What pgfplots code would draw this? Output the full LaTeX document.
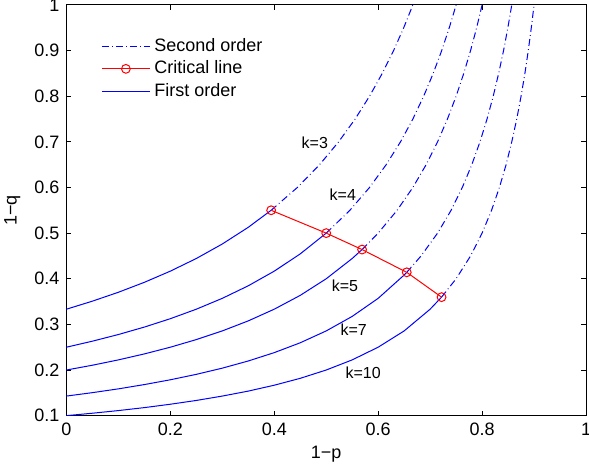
\documentclass[border=0pt]{standalone}
\usepackage{fontspec}
\setmainfont{Liberation Sans}
\usepackage{pgfplots}
\pgfplotsset{compat=1.18}

\definecolor{mblue}{rgb}{0,0,1}
\definecolor{mred}{rgb}{1,0,0}

\pgfplotsset{
  first/.style={mblue, line width=0.5pt, no markers},
  second/.style={mblue, line width=0.5pt, no markers,
    dash pattern=on 3.5pt off 1.6pt on 0.4pt off 1.6pt},
}

\begin{document}
\begin{tikzpicture}
\begin{axis}[
    scale only axis,
    width=260pt, height=205.5pt,
    xmin=0, xmax=1, ymin=0.1, ymax=1,
    xtick={0,0.2,0.4,0.6,0.8,1},
    ytick={0.1,0.2,0.3,0.4,0.5,0.6,0.7,0.8,0.9,1},
    tick align=inside,
    major tick length=2.5pt,
    axis line style={line width=0.5pt},
    every tick/.style={black, line width=0.5pt},
    font=\fontsize{9}{11}\selectfont,
    /pgf/number format/assume math mode=true,
    xlabel={1−p}, ylabel={1−q},
    xlabel style={at={(axis description cs:0.5,-0.095)}, anchor=center},
    ylabel style={at={(axis description cs:-0.104,0.5)}, anchor=center},
    legend cell align=left,
    legend style={draw=none, fill=none, at={(axis description cs:0.055,0.94)},
      anchor=north west, font=\fontsize{9}{11}\selectfont, row sep=-0.6pt},
    legend image code/.code={
      \draw[mark repeat=2, mark phase=2, #1]
        plot coordinates {(0pt,0pt) (12pt,0pt) (24pt,0pt)};
    },
]
\addlegendimage{second}
\addlegendentry{Second order}
\addlegendimage{mred, line width=0.5pt, mark=o, mark size=2.2pt}
\addlegendentry{Critical line}
\addlegendimage{first}
\addlegendentry{First order}

% k=3
\addplot[first, forget plot] coordinates {
  (0,0.3333) (0.05,0.3509) (0.1,0.3704) (0.15,0.3922) (0.2,0.4167)
  (0.25,0.4444) (0.3,0.4762) (0.35,0.5128) (0.394,0.5501)};
\addplot[second, forget plot] coordinates {
  (0.394,0.5501) (0.4444,0.6) (0.4872,0.65) (0.5238,0.7) (0.5556,0.75)
  (0.5833,0.8) (0.6078,0.85) (0.6296,0.9) (0.6491,0.95) (0.6667,1)};
% k=4
\addplot[first, forget plot] coordinates {
  (0,0.25) (0.05,0.2632) (0.1,0.2778) (0.15,0.2941) (0.2,0.3125)
  (0.25,0.3333) (0.3,0.3571) (0.35,0.3846) (0.4,0.4167) (0.45,0.4545)
  (0.5,0.5)};
\addplot[second, forget plot] coordinates {
  (0.5,0.5) (0.5455,0.55) (0.5833,0.6) (0.6154,0.65) (0.6429,0.7)
  (0.6667,0.75) (0.6875,0.8) (0.7059,0.85) (0.7222,0.9) (0.7368,0.95)
  (0.75,1)};
% k=5
\addplot[first, forget plot] coordinates {
  (0,0.2) (0.05,0.2105) (0.1,0.2222) (0.15,0.2353) (0.2,0.25)
  (0.25,0.2667) (0.3,0.2857) (0.35,0.3077) (0.4,0.3333) (0.45,0.3636)
  (0.5,0.4) (0.55,0.4444) (0.569,0.4640)};
\addplot[second, forget plot] coordinates {
  (0.569,0.4640) (0.6,0.5) (0.6364,0.55) (0.6667,0.6) (0.6923,0.65)
  (0.7143,0.7) (0.7333,0.75) (0.75,0.8) (0.7647,0.85) (0.7778,0.9)
  (0.7895,0.95) (0.8,1)};
% k=7
\addplot[first, forget plot] coordinates {
  (0,0.1429) (0.05,0.1504) (0.1,0.1587) (0.15,0.1681) (0.2,0.1786)
  (0.25,0.1905) (0.3,0.2041) (0.35,0.2198) (0.4,0.2381) (0.45,0.2597)
  (0.5,0.2857) (0.55,0.3175) (0.6,0.3571) (0.65,0.4082) (0.655,0.4141)};
\addplot[second, forget plot] coordinates {
  (0.655,0.4141) (0.6825,0.45) (0.7143,0.5) (0.7403,0.55) (0.7619,0.6)
  (0.7802,0.65) (0.7959,0.7) (0.8095,0.75) (0.8214,0.8) (0.8319,0.85)
  (0.8413,0.9) (0.8496,0.95) (0.8571,1)};
% k=10
\addplot[first, forget plot] coordinates {
  (0,0.1) (0.05,0.1053) (0.1,0.1111) (0.15,0.1176) (0.2,0.125)
  (0.25,0.1333) (0.3,0.1429) (0.35,0.1538) (0.4,0.1667) (0.45,0.1818)
  (0.5,0.2) (0.55,0.2222) (0.6,0.25) (0.65,0.2857) (0.7,0.3333)
  (0.722,0.3597)};
\addplot[second, forget plot] coordinates {
  (0.722,0.3597) (0.75,0.4) (0.7778,0.45) (0.8,0.5) (0.8182,0.55)
  (0.8333,0.6) (0.8462,0.65) (0.8571,0.7) (0.8667,0.75) (0.875,0.8)
  (0.8824,0.85) (0.8889,0.9) (0.8947,0.95) (0.9,1)};

% critical line
\addplot[mred, line width=0.5pt, mark=o, mark size=2.2pt, forget plot] coordinates {
  (0.394,0.5501) (0.5,0.5) (0.569,0.4640) (0.655,0.4141) (0.722,0.3597)};

\node[font=\fontsize{8}{10}\selectfont] at (axis cs:0.478,0.698) {k=3};
\node[font=\fontsize{8}{10}\selectfont] at (axis cs:0.532,0.584) {k=4};
\node[font=\fontsize{8}{10}\selectfont] at (axis cs:0.536,0.385) {k=5};
\node[font=\fontsize{8}{10}\selectfont] at (axis cs:0.553,0.288) {k=7};
\node[font=\fontsize{8}{10}\selectfont] at (axis cs:0.571,0.194) {k=10};

\coordinate (sw) at (rel axis cs:0,0);
\coordinate (ne) at (rel axis cs:1,1);
\end{axis}
\pgfresetboundingbox
\path[use as bounding box] ([xshift=-33.25pt,yshift=-27pt]sw) rectangle ([xshift=1.5pt,yshift=2.5pt]ne);
\end{tikzpicture}
\end{document}
